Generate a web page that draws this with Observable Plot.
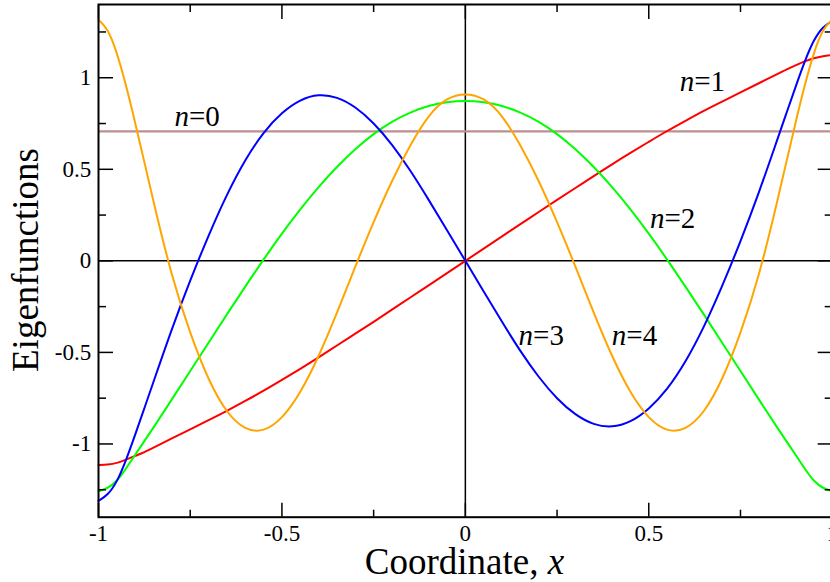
<!DOCTYPE html>
<html><head><meta charset="utf-8">
<script src="https://cdn.jsdelivr.net/npm/d3@7"></script>
<script src="https://cdn.jsdelivr.net/npm/@observablehq/plot@0.6"></script>
<style>body{margin:0;background:#fff}svg{display:block}</style>
</head><body><div id="chart"></div>
<script>
const xs = [-1, -0.975, -0.95, -0.925, -0.9, -0.875, -0.85, -0.8, -0.75, -0.7, -0.65, -0.6, -0.55, -0.5, -0.45, -0.4, -0.35, -0.3, -0.25, -0.2, -0.15, -0.1, -0.05, 0,
  0.05, 0.1, 0.15, 0.2, 0.25, 0.3, 0.35, 0.4, 0.45, 0.5, 0.55, 0.6, 0.65, 0.7, 0.75, 0.8, 0.85, 0.875, 0.9, 0.925, 0.95, 0.975, 1];
const n0 = [0.707];
const n1 = [-1.116, -1.113, -1.105, -1.086, -1.065, -1.045, -1.02, -0.97, -0.92, -0.87, -0.82, -0.765, -0.71, -0.65, -0.59, -0.528, -0.462, -0.398, -0.333, -0.267, -0.2, -0.134, -0.067, 0,
  0.067, 0.134, 0.2, 0.267, 0.333, 0.398, 0.462, 0.528, 0.59, 0.65, 0.71, 0.765, 0.82, 0.87, 0.92, 0.97, 1.02, 1.045, 1.068, 1.09, 1.107, 1.118, 1.124];
const n2 = [-1.258, -1.243, -1.205, -1.135, -1.058, -0.985, -0.91, -0.757, -0.602, -0.447, -0.292, -0.14, 0.008, 0.15, 0.283, 0.405, 0.515, 0.612, 0.695, 0.762, 0.812, 0.848, 0.868, 0.875,
  0.868, 0.848, 0.812, 0.762, 0.695, 0.612, 0.515, 0.405, 0.283, 0.15, 0.008, -0.14, -0.292, -0.447, -0.602, -0.757, -0.91, -0.985, -1.058, -1.135, -1.205, -1.243, -1.258];
const n3 = [-1.31, -1.28, -1.21, -1.09, -0.95, -0.805, -0.66, -0.37, -0.105, 0.14, 0.365, 0.555, 0.705, 0.812, 0.882, 0.911, 0.897, 0.843, 0.755, 0.637, 0.495, 0.334, 0.167, 0,
  -0.167, -0.334, -0.495, -0.637, -0.755, -0.843, -0.897, -0.911, -0.882, -0.812, -0.705, -0.555, -0.365, -0.14, 0.105, 0.37, 0.66, 0.805, 0.95, 1.09, 1.21, 1.28, 1.31];
const n4 = [1.316, 1.27, 1.14, 0.96, 0.755, 0.54, 0.32, -0.09, -0.40, -0.655, -0.835, -0.925, -0.935, -0.865, -0.725, -0.525, -0.285, -0.03, 0.215, 0.44, 0.635, 0.80, 0.893, 0.917,
  0.893, 0.80, 0.635, 0.44, 0.215, -0.03, -0.285, -0.525, -0.725, -0.865, -0.935, -0.925, -0.835, -0.655, -0.40, -0.09, 0.32, 0.54, 0.755, 0.96, 1.14, 1.27, 1.316];
const xTicks = [-1, -0.5, 0, 0.5, 1];
const xMinor = [-0.75, -0.25, 0.25, 0.75];
const yTicks = [-1, -0.5, 0, 0.5, 1];
const yMinor = [-1.25, -0.75, -0.25, 0.25, 0.75, 1.25];
const labels = [
  {text: "n=0", x: -0.731, y: 0.735},
  {text: "n=1", x: 0.646, y: 0.93},
  {text: "n=2", x: 0.565, y: 0.177},
  {text: "n=3", x: 0.207, y: -0.457},
  {text: "n=4", x: 0.461, y: -0.457}
];
const xTitle = "Coordinate, x";
const yTitle = "Eigenfunctions";

const series = [
  {values: n1, color: "#ff0000"},
  {values: n2, color: "#00ff00"},
  {values: n3, color: "#0000ff"},
  {values: n4, color: "#ffa500"}
];
const rowsOf = v => xs.map((x, i) => ({x, y: v[i]}));
const fmt = d => String(d);
const font = "'Liberation Serif', 'Times New Roman', serif";

const chart = Plot.plot({
  width: 830, height: 582,
  marginLeft: 98, marginRight: -1.7, marginTop: 4, marginBottom: 65.3,
  style: {fontFamily: font, background: "#fff", color: "#000"},
  x: {domain: [-1, 1]},
  y: {domain: [-1.4, 1.4]},
  marks: [
    Plot.ruleY([0], {stroke: "#000", strokeWidth: 1.5}),
    Plot.ruleX([0], {stroke: "#000", strokeWidth: 1.5}),
    Plot.ruleY(n0, {stroke: "#bc8f8f", strokeWidth: 2.2}),
    ...series.map(s => Plot.line(rowsOf(s.values), {x: "x", y: "y", stroke: s.color, strokeWidth: 2, curve: "basis"})),
    Plot.text(labels, {x: "x", y: "y", text: "text", fontSize: 29, fontFamily: font, textAnchor: "middle", lineAnchor: "bottom", fill: "#000"}),
    Plot.axisX({anchor: "bottom", ticks: xTicks, tickSize: 0, tickPadding: 7, tickFormat: fmt, fontSize: 23, label: null}),
    Plot.axisY({anchor: "left", ticks: yTicks, tickSize: 0, tickPadding: 7.3, tickFormat: fmt, fontSize: 23, label: null}),
    Plot.axisX({anchor: "bottom", ticks: xTicks, tickSize: -14, fill: "none", strokeWidth: 1.5, label: null}),
    Plot.axisX({anchor: "bottom", ticks: xMinor, tickSize: -7, fill: "none", strokeWidth: 1.5, label: null}),
    Plot.axisX({anchor: "top", ticks: xTicks, tickSize: -14, fill: "none", strokeWidth: 1.5, label: null}),
    Plot.axisX({anchor: "top", ticks: xMinor, tickSize: -7, fill: "none", strokeWidth: 1.5, label: null}),
    Plot.axisY({anchor: "left", ticks: yTicks, tickSize: -15, fill: "none", strokeWidth: 1.5, label: null}),
    Plot.axisY({anchor: "left", ticks: yMinor, tickSize: -8, fill: "none", strokeWidth: 1.5, label: null}),
    Plot.axisY({anchor: "right", ticks: yTicks, tickSize: -15, fill: "none", strokeWidth: 1.5, label: null}),
    Plot.axisY({anchor: "right", ticks: yMinor, tickSize: -8, fill: "none", strokeWidth: 1.5, label: null}),
    Plot.frame({stroke: "#000", strokeWidth: 2})
  ]
});
document.getElementById("chart").appendChild(chart);

const svg = d3.select(chart);
svg.attr("overflow", "hidden");
// italic n in curve labels
svg.selectAll("text").filter(function() { return /^n=\d$/.test(this.textContent); })
  .each(function() {
    const t = this.textContent;
    const sel = d3.select(this);
    sel.text(null);
    sel.append("tspan").attr("font-style", "italic").text("n");
    sel.append("tspan").text(t.slice(1));
  });
// axis titles
const xt = svg.append("text")
  .attr("x", 464.5).attr("y", 574)
  .attr("text-anchor", "middle")
  .attr("font-family", font).attr("font-size", 37).attr("fill", "#000");
xt.append("tspan").text(xTitle.slice(0, -1));
xt.append("tspan").attr("font-style", "italic").text(xTitle.slice(-1));
svg.append("text")
  .attr("transform", "translate(38,260) rotate(-90)")
  .attr("text-anchor", "middle")
  .attr("font-family", font).attr("font-size", 37).attr("fill", "#000")
  .text(yTitle);
</script>
</body></html>
